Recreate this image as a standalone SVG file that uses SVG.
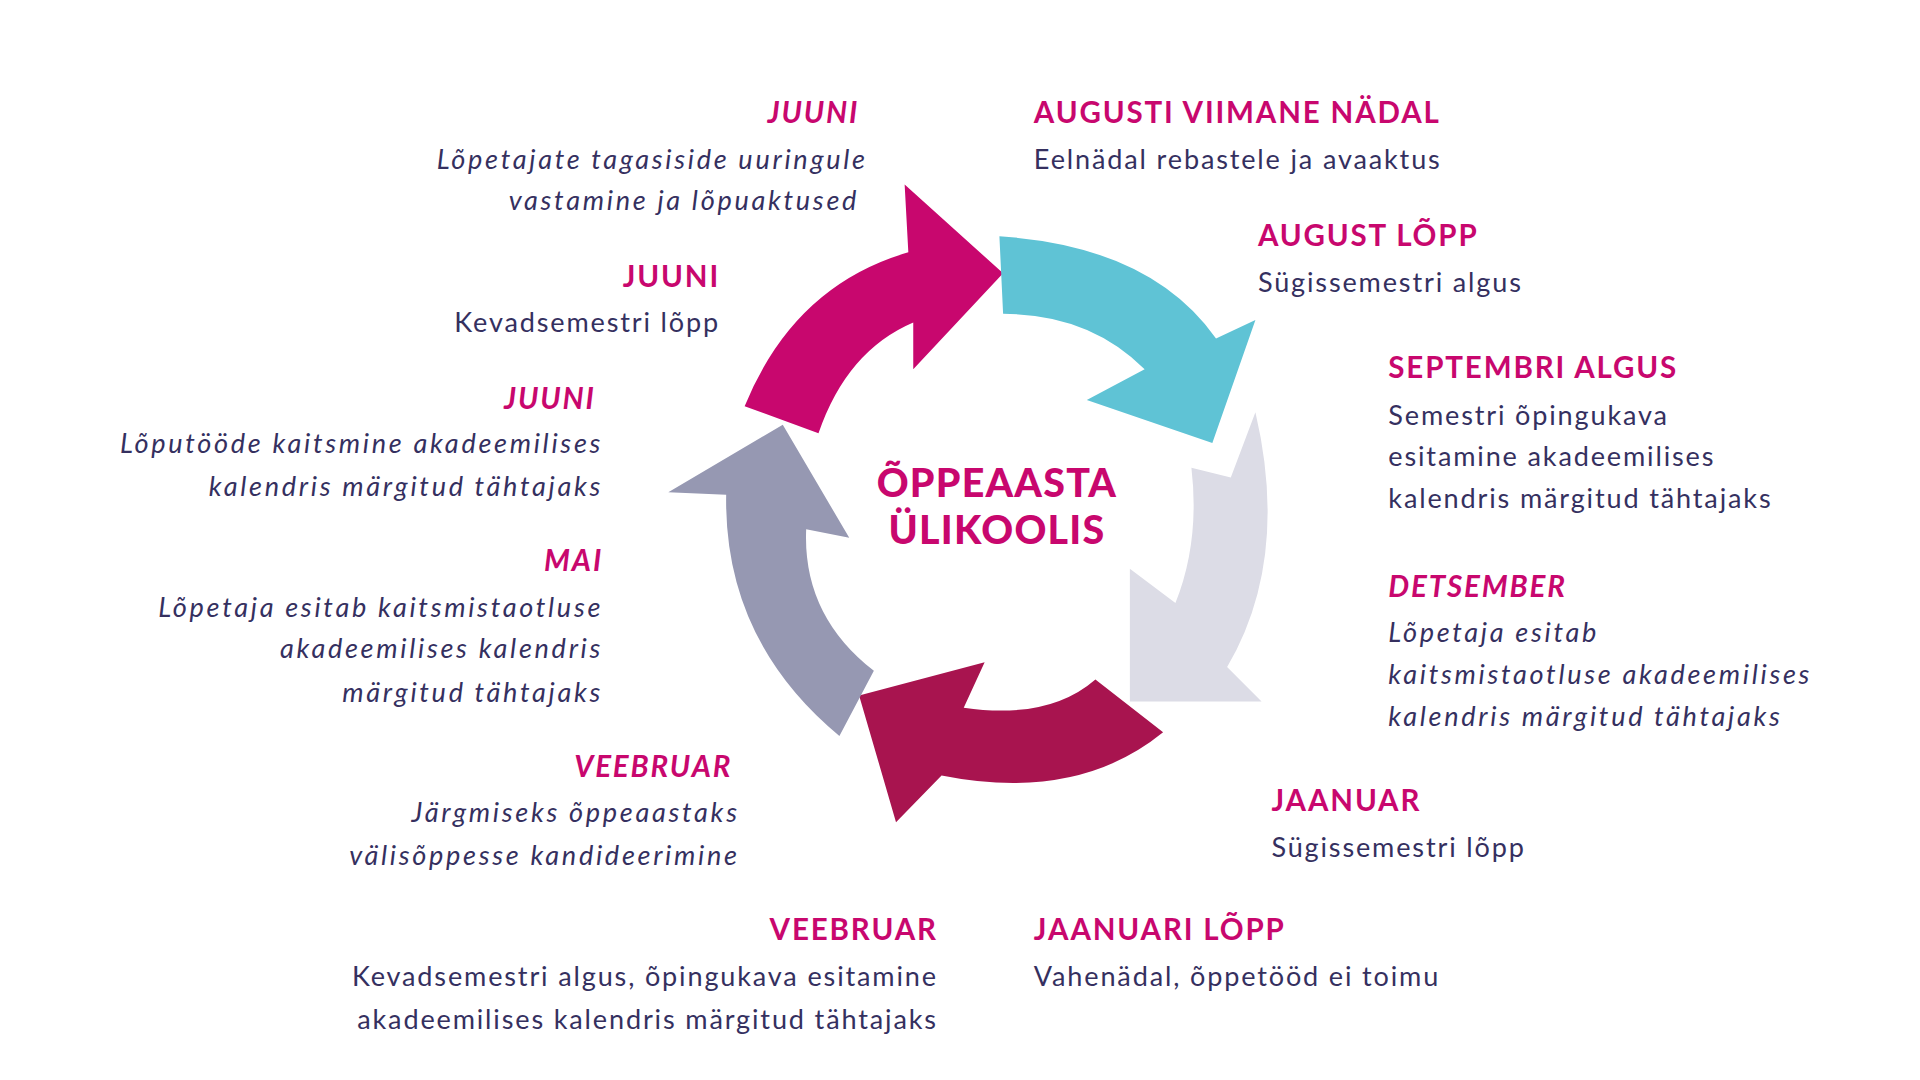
<svg xmlns="http://www.w3.org/2000/svg" width="1920" height="1080" viewBox="0 0 1920 1080">
<style>
.h{font-family:Lato,"Open Sans",sans-serif;font-weight:700;font-size:24px;fill:#C8076E;letter-spacing:1.5px}
.b{font-family:Lato,"Open Sans",sans-serif;font-size:22px;fill:#35305F;letter-spacing:1.5px}
.b.i{letter-spacing:2.2px}
.i{font-style:italic}
.e{text-anchor:end}
.c{font-family:Lato,"Open Sans",sans-serif;font-weight:900;font-size:32px;fill:#C8076E;text-anchor:middle;letter-spacing:1px}
</style>
<rect width="1920" height="1080" fill="#fff"/>
<g transform="scale(1.2308)">
<g id="connectors">
<path id="a1" fill="#C8076E" d="M605,330 Q645,232 738,205 L735,150 L815,222 L742,300 L742,262 Q688,285 665,352 Z"/>
<path id="a2" fill="#5FC3D5" d="M812,192 Q935,200 988,275 L1020,260 L985,360 L883,325 L930,300 Q885,255 815,255 Z"/>
<path id="a3" fill="#DCDCE6" d="M1020,335 Q1048,455 997,542 L1025,570 L918,570 L918,462 L955,490 Q975,440 968,380 L1000,388 Z"/>
<path id="a4" fill="#A8144F" d="M945,595 Q875,652 765,630 L728,668 L698,565 L800,538 L783,575 Q852,585 890,552 Z"/>
<path id="a5" fill="#9698B2" d="M682,598 Q588,520 590,402 L543,400 L636,345 L690,437 L655,430 Q652,500 710,545 Z"/>
</g>
<g id="center"><text class="c" x="810" y="404">ÕPPEAASTA</text><text class="c" x="810" y="442">ÜLIKOOLIS</text></g>
<g id="n1"><text class="h i e" x="698" y="100">JUUNI</text><text class="b i e" x="705" y="137">Lõpetajate tagasiside uuringule</text><text class="b i e" x="698" y="171">vastamine ja lõpuaktused</text></g>
<g id="n2"><text class="h e" x="585" y="233">JUUNI</text><text class="b e" x="585" y="270">Kevadsemestri lõpp</text></g>
<g id="n3"><text class="h i e" x="484" y="332">JUUNI</text><text class="b i e" x="490" y="368">Lõputööde kaitsmine akadeemilises</text><text class="b i e" x="490" y="403">kalendris märgitud tähtajaks</text></g>
<g id="n4"><text class="h i e" x="490" y="464">MAI</text><text class="b i e" x="490" y="501">Lõpetaja esitab kaitsmistaotluse</text><text class="b i e" x="490" y="535">akadeemilises kalendris</text><text class="b i e" x="490" y="570">märgitud tähtajaks</text></g>
<g id="n5"><text class="h i e" x="595" y="631">VEEBRUAR</text><text class="b i e" x="601" y="668">Järgmiseks õppeaastaks</text><text class="b i e" x="601" y="703">välisõppesse kandideerimine</text></g>
<g id="n6"><text class="h e" x="762" y="764">VEEBRUAR</text><text class="b e" x="762" y="801">Kevadsemestri algus, õpingukava esitamine</text><text class="b e" x="762" y="836">akadeemilises kalendris märgitud tähtajaks</text></g>
<g id="n7"><text class="h" x="840" y="100">AUGUSTI VIIMANE NÄDAL</text><text class="b" x="840" y="137">Eelnädal rebastele ja avaaktus</text></g>
<g id="n8"><text class="h" x="1022" y="200">AUGUST LÕPP</text><text class="b" x="1022" y="237">Sügissemestri algus</text></g>
<g id="n9"><text class="h" x="1128" y="307">SEPTEMBRI ALGUS</text><text class="b" x="1128" y="345">Semestri õpingukava</text><text class="b" x="1128" y="379">esitamine akadeemilises</text><text class="b" x="1128" y="413">kalendris märgitud tähtajaks</text></g>
<g id="n10"><text class="h i" x="1128" y="485">DETSEMBER</text><text class="b i" x="1128" y="522">Lõpetaja esitab</text><text class="b i" x="1128" y="556">kaitsmistaotluse akadeemilises</text><text class="b i" x="1128" y="590">kalendris märgitud tähtajaks</text></g>
<g id="n11"><text class="h" x="1033" y="659">JAANUAR</text><text class="b" x="1033" y="696">Sügissemestri lõpp</text></g>
<g id="n12"><text class="h" x="840" y="764">JAANUARI LÕPP</text><text class="b" x="840" y="801">Vahenädal, õppetööd ei toimu</text></g>
</g>
</svg>
